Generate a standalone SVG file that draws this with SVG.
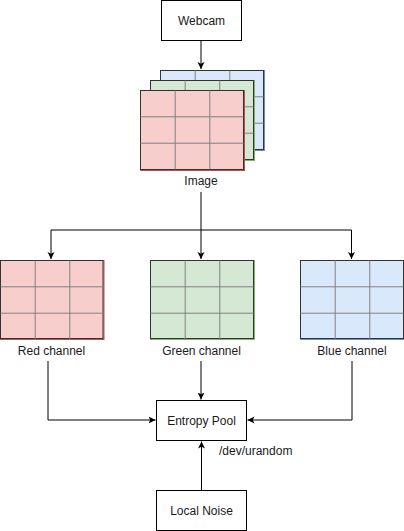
<svg xmlns="http://www.w3.org/2000/svg" xmlns:xlink="http://www.w3.org/1999/xlink" width="404" height="531" viewBox="0 0 404 531">
<style>
text{font-family:"Liberation Sans",Arial,sans-serif;font-size:12px;fill:#1a1a1a}
.box{fill:#fff;stroke:#000;stroke-width:1}
.edge{fill:none;stroke:#000;stroke-width:1}
.grid line{stroke:#808080;stroke-width:1}
.frame{fill:none;stroke:#333;stroke-width:1}
.r{fill:#f8cecc;stroke:#b85450}
.g{fill:#d5e8d4;stroke:#82b366}
.b{fill:#dae8fc;stroke:#6c8ebf}
</style>
<defs>
<marker id="arr" markerWidth="8" markerHeight="8" refX="7" refY="4" orient="auto" markerUnits="userSpaceOnUse">
<path d="M0,0.5 L7,4 L0,7.5 L1.75,4 Z" fill="#000"/>
</marker>
<g id="grid" class="grid">
<line x1="34.7" y1="0" x2="34.7" y2="79"/>
<line x1="69.3" y1="0" x2="69.3" y2="79"/>
<line x1="0" y1="26.3" x2="103" y2="26.3"/>
<line x1="0" y1="52.7" x2="103" y2="52.7"/>
</g>
</defs>
<g id="connectors">
<path class="edge" d="M201,40 V69" marker-end="url(#arr)"/>
<path class="edge" d="M201,192 V230 H51 V259" marker-end="url(#arr)"/>
<path class="edge" d="M201,230 V259" marker-end="url(#arr)"/>
<path class="edge" d="M201,230 H351.5 V259" marker-end="url(#arr)"/>
<path class="edge" d="M48,361 V420 H155.5" marker-end="url(#arr)"/>
<path class="edge" d="M201,361 V399.5" marker-end="url(#arr)"/>
<path class="edge" d="M352,361 V420 H247.5" marker-end="url(#arr)"/>
<path class="edge" d="M201.5,490 V441.5" marker-end="url(#arr)"/>
</g>
<g id="webcam">
<rect class="box" x="161.5" y="0.5" width="80" height="40"/>
<text x="201.5" y="24.5" text-anchor="middle">Webcam</text>
</g>
<g id="image">
<rect class="b" x="160.5" y="70.5" width="104" height="80"/>
<rect class="frame" x="160.5" y="70.5" width="103" height="79"/>
<use xlink:href="#grid" x="160.5" y="70.5"/>
<rect class="g" x="150.5" y="80.5" width="104" height="80"/>
<rect class="frame" x="150.5" y="80.5" width="103" height="79"/>
<use xlink:href="#grid" x="150.5" y="80.5"/>
<rect class="r" x="140.5" y="90.5" width="104" height="80"/>
<rect class="frame" x="140.5" y="90.5" width="103" height="79"/>
<use xlink:href="#grid" x="140.5" y="90.5"/>
<text x="201" y="185" text-anchor="middle">Image</text>
</g>
<g id="red-channel">
<rect class="r" x="0.5" y="260.5" width="103.5" height="79"/>
<rect class="frame" x="0.5" y="260.5" width="102.5" height="78"/>
<use xlink:href="#grid" x="0.5" y="260.5"/>
<text x="51.5" y="355" text-anchor="middle">Red channel</text>
</g>
<g id="green-channel">
<rect class="g" x="150.5" y="260.5" width="104" height="79"/>
<rect class="frame" x="150.5" y="260.5" width="103" height="78"/>
<use xlink:href="#grid" x="150.5" y="260.5"/>
<text x="201.5" y="355" text-anchor="middle">Green channel</text>
</g>
<g id="blue-channel">
<rect class="b" x="300.5" y="260.5" width="104" height="79"/>
<rect class="frame" x="300.5" y="260.5" width="103" height="78"/>
<use xlink:href="#grid" x="300.5" y="260.5"/>
<text x="352" y="355" text-anchor="middle">Blue channel</text>
</g>
<g id="entropy-pool">
<rect class="box" x="156.5" y="400.5" width="90" height="40"/>
<text x="201.5" y="424.5" text-anchor="middle">Entropy Pool</text>
<text x="219" y="455">/dev/urandom</text>
</g>
<g id="local-noise">
<rect class="box" x="156.5" y="490.5" width="90" height="40"/>
<text x="201.5" y="515" text-anchor="middle">Local Noise</text>
</g>
</svg>
